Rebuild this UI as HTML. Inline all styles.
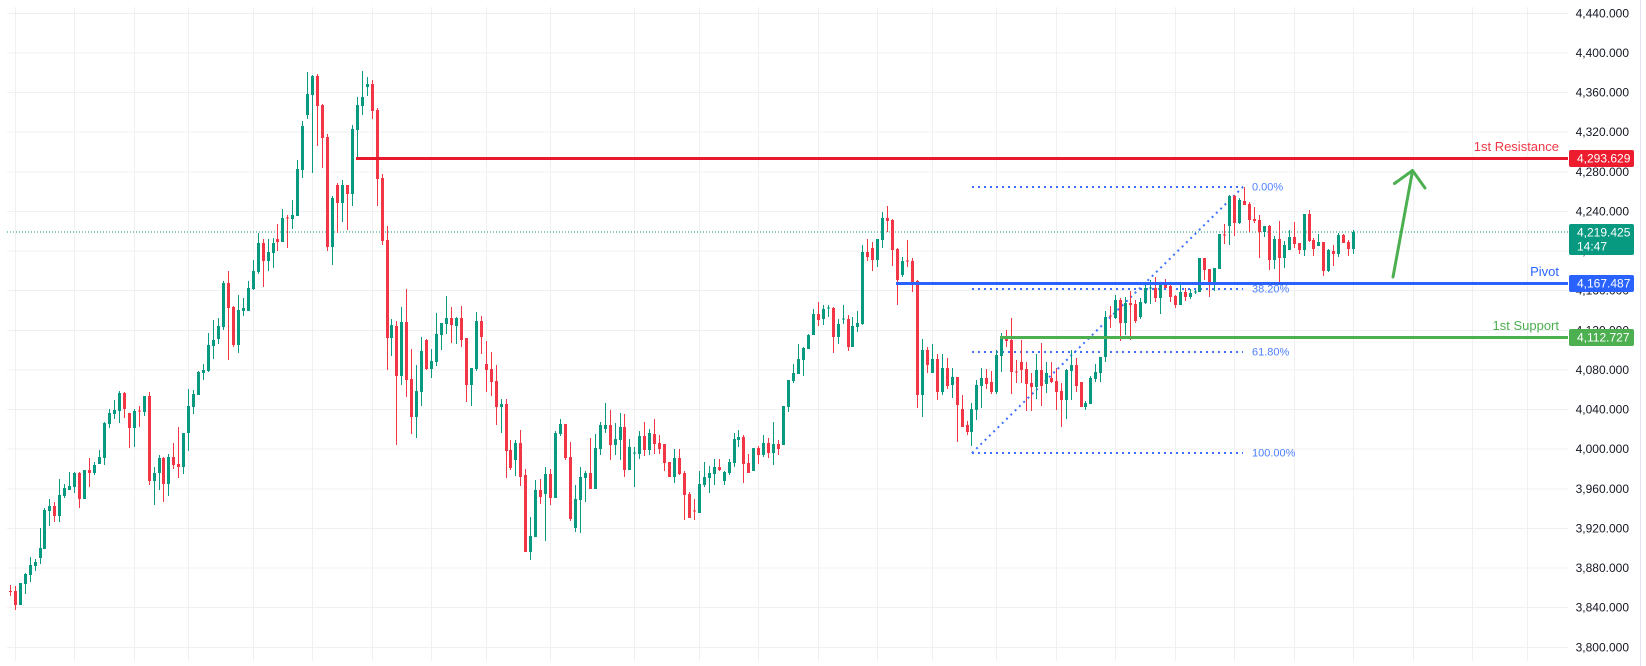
<!DOCTYPE html>
<html><head><meta charset="utf-8"><style>
html,body{margin:0;padding:0;background:#fff;}
svg{display:block;font-family:"Liberation Sans",sans-serif;}
</style></head><body>
<svg id="c" width="1646" height="666" viewBox="0 0 1646 666" xmlns="http://www.w3.org/2000/svg">
<rect width="1646" height="666" fill="#fff"/>
<g stroke="#f0f0f3" stroke-width="1" fill="none">
<path d="M7 13.5H1568M7 53H1568M7 92.5H1568M7 132H1568M7 172H1568M7 211.5H1568M7 251H1568M7 290.5H1568M7 330.5H1568M7 370H1568M7 409.5H1568M7 449H1568M7 489H1568M7 528.5H1568M7 568H1568M7 607.5H1568M7 647.5H1568"/>
<path d="M15.5 7V661M74.5 7V661M134.5 7V661M188.5 7V661M253.5 7V661M312.5 7V661M372.5 7V661M431.5 7V661M486.5 7V661M550.5 7V661M634.5 7V661M699.5 7V661M758.5 7V661M818.5 7V661M877.5 7V661M932.5 7V661M996.5 7V661M1056.5 7V661M1115.5 7V661M1175.5 7V661M1234.5 7V661M1294.5 7V661M1353.5 7V661M1413.5 7V661M1472.5 7V661M1527.5 7V661"/>
</g>
<line x1="1640.5" y1="0" x2="1640.5" y2="666" stroke="#e0e3eb" stroke-width="1"/>

<!-- current price dotted line -->
<line x1="7" y1="232" x2="1568" y2="232" stroke="#089981" stroke-width="1" stroke-dasharray="1 2"/>

<!-- fib lines -->
<g stroke="#2962ff" stroke-width="2" stroke-dasharray="2 4" fill="none" opacity="0.9">
<line x1="972" y1="187" x2="1243" y2="187"/>
<line x1="972" y1="289" x2="1243" y2="289"/>
<line x1="972" y1="352" x2="1243" y2="352"/>
<line x1="972" y1="453" x2="1243" y2="453"/>
<line x1="972" y1="453" x2="1243" y2="187"/>
</g>
<g font-size="11" fill="#4d7fff">
<text x="1252" y="190.5">0.00%</text>
<text x="1252" y="292.5">38.20%</text>
<text x="1252" y="355.5">61.80%</text>
<text x="1252" y="456.5">100.00%</text>
</g>

<!-- candles -->
<g id="cg"><path id="gw" stroke="#089981" stroke-width="1" fill="none"/><path id="gb" fill="#089981"/><path id="rw" stroke="#f23645" stroke-width="1" fill="none"/><path id="rb" fill="#f23645"/></g>

<!-- level lines -->
<line x1="356" y1="158.5" x2="1568" y2="158.5" stroke="#e8192c" stroke-width="3"/>
<line x1="896" y1="283.5" x2="1568" y2="283.5" stroke="#2962ff" stroke-width="3"/>
<line x1="1000" y1="337.5" x2="1568" y2="337.5" stroke="#4caf50" stroke-width="3"/>
<g font-size="13" text-anchor="end">
<text x="1559" y="151" fill="#f23645">1st Resistance</text>
<text x="1559" y="276" fill="#2962ff">Pivot</text>
<text x="1559" y="330" fill="#4caf50">1st Support</text>
</g>

<!-- green arrow -->
<g stroke="#4caf50" stroke-width="3" fill="none" stroke-linecap="round" stroke-linejoin="round">
<path d="M1393 277L1412.5 171"/>
<path d="M1394.5 183.5L1412.5 170.5L1425 188"/>
</g>

<!-- axis labels -->
<g font-size="12" fill="#131722" text-anchor="end">
<text x="1629" y="17.5">4,440.000</text>
<text x="1629" y="57">4,400.000</text>
<text x="1629" y="96.5">4,360.000</text>
<text x="1629" y="136">4,320.000</text>
<text x="1629" y="176">4,280.000</text>
<text x="1629" y="215.5">4,240.000</text>
<text x="1629" y="255">4,200.000</text>
<text x="1629" y="294.5">4,160.000</text>
<text x="1629" y="334.5">4,120.000</text>
<text x="1629" y="374">4,080.000</text>
<text x="1629" y="413.5">4,040.000</text>
<text x="1629" y="453">4,000.000</text>
<text x="1629" y="493">3,960.000</text>
<text x="1629" y="532.5">3,920.000</text>
<text x="1629" y="572">3,880.000</text>
<text x="1629" y="611.5">3,840.000</text>
<text x="1629" y="651.5">3,800.000</text>
</g>

<!-- price tags -->
<rect x="1569" y="150" width="65" height="17" rx="2" fill="#ed1c2e"/>
<text x="1577" y="162.5" font-size="12" fill="#fff">4,293.629</text>
<rect x="1569" y="224" width="65" height="31" rx="2" fill="#089981"/>
<text x="1577" y="236.5" font-size="12" fill="#fff">4,219.425</text>
<text x="1577" y="250.5" font-size="12" fill="#fff">14:47</text>
<rect x="1569" y="275" width="65" height="17" rx="2" fill="#2962ff"/>
<text x="1577" y="287.5" font-size="12" fill="#fff">4,167.487</text>
<rect x="1569" y="329" width="65" height="17" rx="2" fill="#4caf50"/>
<text x="1577" y="341.5" font-size="12" fill="#fff">4,112.727</text>
</svg>
<script>
var D=[
[591,592,585,596],[591,605,586,610],[605,583,583,605],[584,574,573,594],[575,565,557,582],[566,562,559,571],[558,548,528,564],[549,510,508,549],[511,506,499,526],[506,516,502,522],
[516,495,479,522],[496,488,484,498],[490,486,472,490],[487,473,472,493],[473,499,472,508],[499,470,470,499],[470,473,458,487],[473,465,462,475],[464,457,450,464],[458,423,422,465],
[424,413,409,428],[414,410,400,419],[411,393,391,423],[393,409,392,418],[413,428,413,448],[428,411,409,447],[410.5,411.5,406,427],[412,396,396,416],[396,481,392,485],[481,473,467,505],
[473,458,455,490],[458,484,457,502],[484,457,454,496],[457,465,443,469],[464,467,427,478],[467,433,433,474],[433,406,389,451],[407,394,390,414],[395,372,371,395],[373,370,364,380],
[371,345,333,372],[346,340,320,359],[339,326,318,344],[327,283,281,330],[283,308,271,360],[307,345,306,347],[345,310,295,353],[311,308,298,316],[311,288,281,311],[289,271,260,290],
[272,243,233,274],[243,261,239,287],[261,252,239,271],[253,243,238,268],[239,242,224,251],[242,218,209,242],[217.5,218.5,215,248],[219,215,200,229],[216,169,160,216],[170,126,121,178],
[115,94,72,119],[95,76,75,173],[76,106,74,146],[105,138,104,168],[137,247,134,251],[247,198,196,265],[185,203,183,233],[203,185,180,222],[185,194,185,230],[194,129,125,206],
[130,105,97,159],[106,97,71,115],[87,84,77,96],[84,111,80,119],[110,179,108,206],[178,241,174,245],[240,338,226,370],[338,325,319,356],[326,376,321,445],[376,322,307,385],
[322,380,289,397],[379,417,349,434],[417,391,365,438],[392,351,337,406],[340,369,339,370],[369,361,349,378],[362,334,313,366],[335,323,323,350],[324,318,296,334],[318,325,307,343],
[326,318,317,344],[318,340,306,347],[338,385,338,402],[385,368,368,406],[369,321,312,371],[321,337,316,354],[364,370,341,392],[369,382,352,396],[381,407,365,425],[407,404,399,433],
[404,451,399,478],[450,468,440,470],[460,443,440,476],[443,477,430,486],[475,552,469,552],[552,536,517,560],[537,490,480,537],[490,497,479,504],[494,474,467,541],[474,498,469,505],
[498,433,431,498],[434,424,419,436],[424,458,424,460],[457,519,442,521],[528,499,485,532],[500,477,467,533],[478,473,471,502],[473,489,438,489],[489,448,434,489],[449,425,422,455],
[429,425,403,433],[425,445,410,460],[445,439,423,455],[440,427,413,460],[427,470,414,477],[470,447,439,470],[453.5,452.5,447,487],[454,436,431,459],[436,450,422,456],[450,433,429,455],
[434,444,419,454],[443,449,435,454],[444,463,444,471],[462,477,462,477],[477,458,449,483],[458,474,449,475],[473,495,471,520],[494,518,492,518],[510.5,511.5,499,520],[513,484,471,513],
[485,477,462,487],[478,473,466,493],[474,467,459,485],[467,470,459,471],[481,472,471,485],[473,462,459,475],[463,439,433,467],[440,437,430,447],[437,464,435,483],[463,473,454,473],
[471,448,448,471],[448,455,446,464],[455,443,435,457],[443,453,438,458],[453,444,422,465],[444,449,440,455],[445,406,406,445],[407,380,380,412],[381,373,364,383],[374,359,344,374],
[360,348,347,376],[349,335,334,349],[335,314,309,335],[314,320,302,326],[319,309,305,325],[308.5,307.5,305,317],[308,337,307,353],[337,324,319,344],[319.5,318.5,305,324],[319,347,315,351],
[347,326,317,347],[327,323,311,332],[324,252,245,325],[252,257,239,261],[248,260,242,271],[260,239,239,267],[240,218,212,248],[218,221,206,232],[220,250,219,266],[249,280,248,305],
[275,261,257,277],[260.5,261.5,240,267],[261,283,258,292],[281,395,280,408],[395,350,339,417],[350,365,347,373],[373,359,344,373],[359,392,354,400],[392,368,354,395],[368,386,358,389],
[385,377,368,398],[377,405,377,442],[409,427,395,427],[425,432,421,435],[432,409,403,446],[410,385,380,420],[386,378,368,408],[378,384,369,389],[382,392,371,394],[392,355,350,394],
[356,337,333,372],[337,341,330,347],[340,372,318,394],[371.5,372.5,360,383],[362,370,340,383],[369,384,362,411],[383,387,373,411],[387,370,354,399],[370,386,343,406],[384,373,362,393],
[378,382,362,383],[381,392,368,410],[391,400,383,427],[400,370,369,419],[371,365,350,400],[365,386,358,392],[382,407,382,407],[407,403,401,410],[404,378,376,404],[379,372,364,382],
[373,357,357,382],[357,317,311,362],[315.5,316.5,306,328],[318,300,295,319],[300,323,298,341],[323,303,297,335],[303,305,291,340],[304,321,300,323],[317,302,298,319],[303,288,283,304],
[288.5,287.5,280,304],[288,298,277,302],[298,282,282,314],[283,288,279,288],[286,297,282,302],[296,305,295,308],[305,292,285,305],[292,297,288,301],[297,293,289,299],[292.5,291.5,290,294],
[292,258,258,292],[258,270,258,280],[269,284,269,297],[284,268,268,291],[269,234,234,269],[234.5,235.5,224,244],[226,196,195,245],[196,223,195,236],[223,200,198,224],[201,205,187,205],
[204,220,202,232],[219,221,207,223],[220,232,215,258],[232,226,226,237],[226,260,225,270],[260,239,236,269],[239,258,221,285],[258,245,241,268],[250,237,230,250],[237,244,222,248],
[243,250,243,254],[250,214,214,256],[214,241,210,242],[240,249,238,256],[246,242,234,246],[242,271,242,276],[271,250,249,272],[251,254,245,266],[254,235,233,257],[235,243,234,243],
[242,249,240,256],[249,232,230,254]
];
var gw="",gb="",rw="",rb="";
for(var i=0;i<D.length;i++){
 var d=D[i],o=d[0],c=d[1],h=d[2],l=d[3];
 var x=Math.round(10.3+4.957*i-0.5)+0.5;
 var t=Math.min(o,c),b=Math.max(o,c);
 if(b-t<1){var m=(t+b)/2;t=m-0.5;b=m+0.5;}
 var w="M"+x+" "+Math.min(h,t)+"V"+Math.max(l,b);
 var r="M"+(x-1.5)+" "+t+"h3V"+b+"h-3z";
 if(c<o){gw+=w;gb+=r;}else{rw+=w;rb+=r;}
}
document.getElementById("gw").setAttribute("d",gw);
document.getElementById("gb").setAttribute("d",gb);
document.getElementById("rw").setAttribute("d",rw);
document.getElementById("rb").setAttribute("d",rb);
</script>
</body></html>
